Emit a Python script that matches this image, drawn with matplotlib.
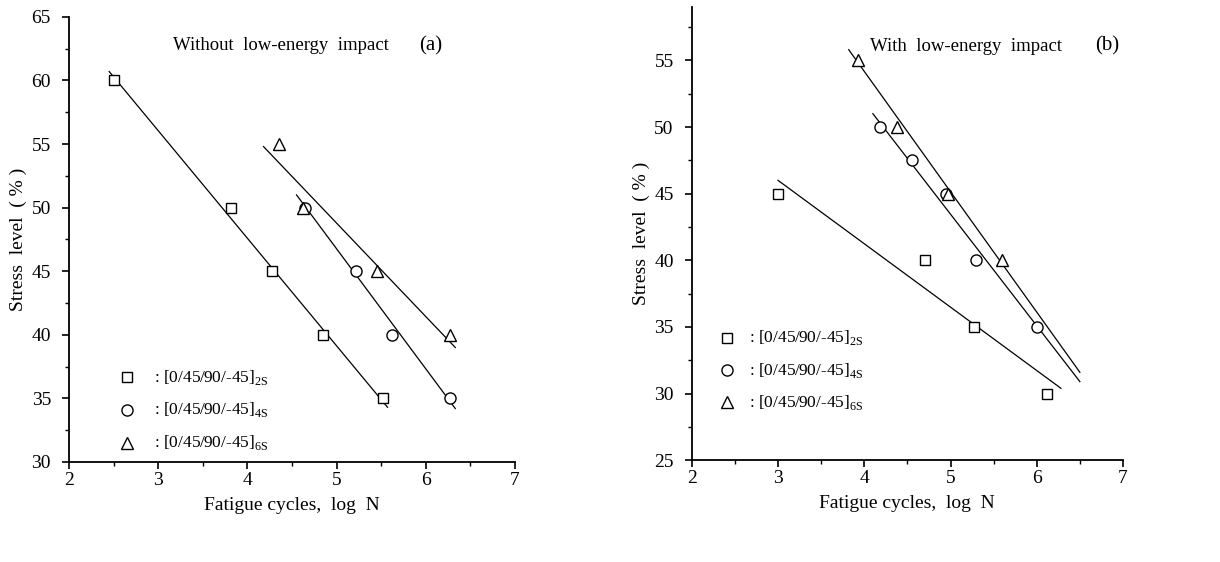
import numpy as np
import matplotlib
matplotlib.use("Agg")
import matplotlib.pyplot as plt
from matplotlib.ticker import MultipleLocator

plt.rcParams["font.family"] = ["Liberation Serif", "DejaVu Serif"]
plt.rcParams["mathtext.fontset"] = "custom"
plt.rcParams["mathtext.rm"] = "Liberation Serif"

# (a) without low-energy impact
a_2s_x = [2.50, 3.82, 4.28, 4.85, 5.52]
a_2s_y = [60, 50, 45, 40, 35]
a_4s_x = [4.65, 5.22, 5.62, 6.27]
a_4s_y = [50, 45, 40, 35]
a_6s_x = [4.35, 4.62, 5.45, 6.27]
a_6s_y = [55, 50, 45, 40]
# fitted lines (end points)
a_2s_fit_x = [2.45, 5.57]
a_2s_fit_y = [60.7, 34.3]
a_4s_fit_x = [4.55, 6.33]
a_4s_fit_y = [51.0, 34.2]
a_6s_fit_x = [4.18, 6.33]
a_6s_fit_y = [54.8, 39.0]

# (b) with low-energy impact
b_2s_x = [3.00, 4.70, 5.27, 6.12]
b_2s_y = [45, 40, 35, 30]
b_4s_x = [4.18, 4.55, 4.95, 5.30, 6.00]
b_4s_y = [50, 47.5, 45, 40, 35]
b_6s_x = [3.93, 4.38, 4.97, 5.60]
b_6s_y = [55, 50, 45, 40]
b_2s_fit_x = [3.00, 6.28]
b_2s_fit_y = [46.0, 30.4]
b_4s_fit_x = [4.10, 6.50]
b_4s_fit_y = [51.0, 30.9]
b_6s_fit_x = [3.82, 6.50]
b_6s_fit_y = [55.8, 31.6]

labels = [r": [0/45/90/-45]$_{\mathrm{2S}}$",
          r": [0/45/90/-45]$_{\mathrm{4S}}$",
          r": [0/45/90/-45]$_{\mathrm{6S}}$"]
markers = ["s", "o", "^"]
msizes = [6.5, 8, 8]


def style_axes(ax, ylim, yticks):
    ax.set_xlim(2, 7)
    ax.set_ylim(*ylim)
    ax.set_xticks(range(2, 8))
    ax.set_yticks(yticks)
    ax.xaxis.set_minor_locator(MultipleLocator(0.5))
    ax.yaxis.set_minor_locator(MultipleLocator(2.5))
    ax.spines["top"].set_visible(False)
    ax.spines["right"].set_visible(False)
    for s in ("left", "bottom"):
        ax.spines[s].set_linewidth(1.3)
    ax.tick_params(which="major", direction="out", length=5, width=1.2, labelsize=14)
    ax.tick_params(axis="x", which="major", pad=2)
    ax.tick_params(axis="y", which="major", pad=8)
    ax.tick_params(which="minor", direction="out", length=3, width=1.0)
    ax.set_xlabel("Fatigue cycles,  log  N", fontsize=14, labelpad=6)
    ax.set_ylabel("Stress  level  ( % )", fontsize=14, labelpad=3)


def draw_panel(ax, series, fits, key_x, key_y, text_x):
    for (x, y), m, ms in zip(series, markers, msizes):
        ax.plot(x, y, linestyle="none", marker=m, ms=ms, mfc="white",
                mec="black", mew=1.0, zorder=3)
    for fx, fy in fits:
        ax.plot(fx, fy, color="black", lw=0.9, zorder=2)
    for m, ms, ky, lab in zip(markers, msizes, key_y, labels):
        ax.plot([key_x], [ky], transform=ax.transAxes, linestyle="none",
                marker=m, ms=ms, mfc="white", mec="black", mew=1.0,
                clip_on=False)
        ax.text(text_x, ky, lab, transform=ax.transAxes, fontsize=12.5,
                va="center", ha="left")


fig = plt.figure(figsize=(12.2, 5.62), dpi=100)
ax1 = fig.add_axes([0.0566, 0.178, 0.3656, 0.792])
ax2 = fig.add_axes([0.567, 0.181, 0.3535, 0.8065])

style_axes(ax1, (30, 65), range(30, 66, 5))
draw_panel(ax1,
           [(a_2s_x, a_2s_y), (a_4s_x, a_4s_y), (a_6s_x, a_6s_y)],
           [(a_2s_fit_x, a_2s_fit_y), (a_4s_fit_x, a_4s_fit_y), (a_6s_fit_x, a_6s_fit_y)],
           0.13, [0.19, 0.117, 0.043], 0.19)
ax1.text(0.233, 0.935, "Without  low-energy  impact", transform=ax1.transAxes,
         fontsize=13.5, va="center", ha="left")
ax1.text(0.81, 0.935, "(a)", transform=ax1.transAxes, fontsize=15,
         va="center", ha="center")

style_axes(ax2, (25, 59), range(25, 56, 5))
draw_panel(ax2,
           [(b_2s_x, b_2s_y), (b_4s_x, b_4s_y), (b_6s_x, b_6s_y)],
           [(b_2s_fit_x, b_2s_fit_y), (b_4s_fit_x, b_4s_fit_y), (b_6s_fit_x, b_6s_fit_y)],
           0.081, [0.27, 0.199, 0.128], 0.133)
ax2.text(0.413, 0.914, "With  low-energy  impact", transform=ax2.transAxes,
         fontsize=13.5, va="center", ha="left")
ax2.text(0.963, 0.914, "(b)", transform=ax2.transAxes, fontsize=15,
         va="center", ha="center")

fig.savefig("out.png", dpi=100)
